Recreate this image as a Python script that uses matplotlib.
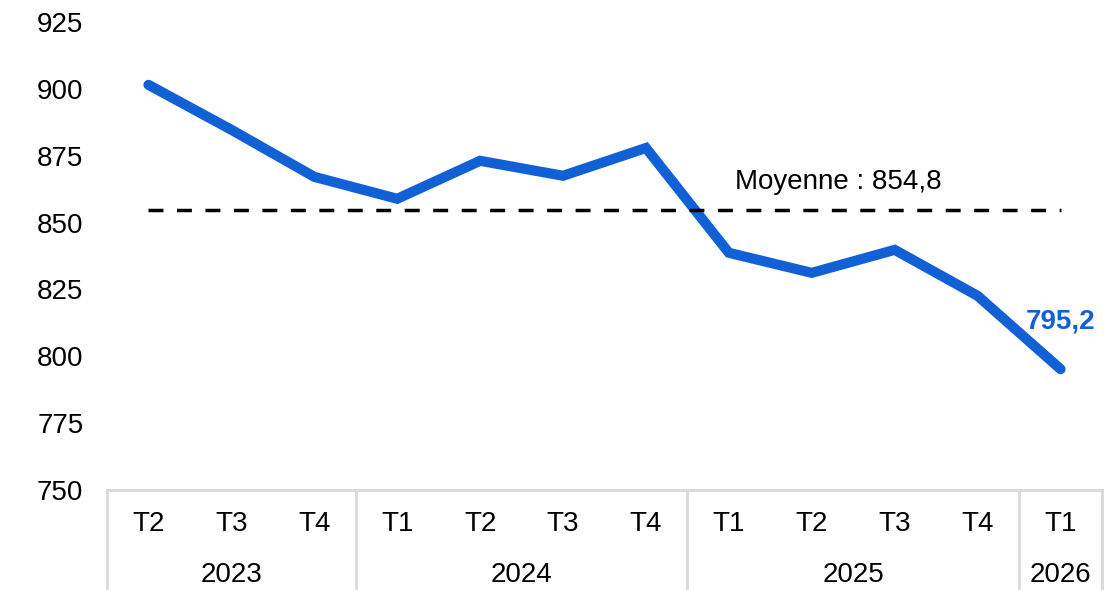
import numpy as np
import matplotlib.pyplot as plt

# Data
quarters = ['T2', 'T3', 'T4', 'T1', 'T2', 'T3', 'T4', 'T1', 'T2', 'T3', 'T4', 'T1']
years = ['2023', '2024', '2025', '2026']
year_counts = [3, 4, 4, 1]
values = [901.5, 884.7, 867.1, 858.9, 873.1, 867.5, 877.9, 838.7, 831.2, 839.8, 822.6, 795.2]
mean_value = 854.8

BLUE = '#1160d6'
GREY = '#d9d9d9'

plt.rcParams['font.family'] = ['Liberation Sans', 'DejaVu Sans']

fig = plt.figure(figsize=(11.19, 5.90), dpi=100)
ax = fig.add_axes([107 / 1119, 100 / 590, 995 / 1119, 468 / 590])

x = np.arange(len(values))
ax.plot(x, values, color=BLUE, lw=7.3, solid_capstyle='round', solid_joinstyle='miter')

# Average line
ax.plot([x[0], x[-1]], [mean_value, mean_value], color='black', lw=2.5,
        dashes=(4.3, 3.9), dash_capstyle='butt')
ax.text(7.07, 865, 'Moyenne : ' + f'{mean_value:.1f}'.replace('.', ','),
        fontsize=20, ha='left', va='center', color='black')

# Last value label
ax.text(x[-1], 813, f'{values[-1]:.1f}'.replace('.', ','), fontsize=20,
        fontweight='bold', color=BLUE, ha='center', va='center')

ax.set_xlim(-0.5, len(values) - 0.5)
ax.set_ylim(750, 925)
ax.set_yticks(np.arange(750, 926, 25))
ax.tick_params(axis='y', length=0, labelsize=20, pad=17)
ax.set_xticks([])

for side in ['top', 'right', 'left']:
    ax.spines[side].set_visible(False)
ax.spines['bottom'].set_color(GREY)
ax.spines['bottom'].set_linewidth(2)

# Two-level category axis
trans = ax.get_xaxis_transform()
depth = 100 / 468
for i, q in enumerate(quarters):
    ax.text(i, -34 / 468, q, transform=trans, ha='center', va='center', fontsize=20)

start = 0
bounds = [-0.5]
for yr, n in zip(years, year_counts):
    ax.text(start + (n - 1) / 2, -85 / 468, yr, transform=trans,
            ha='center', va='center', fontsize=20)
    start += n
    bounds.append(start - 0.5)

for b in bounds:
    ax.plot([b, b], [0, -depth], transform=trans, color=GREY, lw=2, clip_on=False)

fig.savefig('out.png', dpi=100)
